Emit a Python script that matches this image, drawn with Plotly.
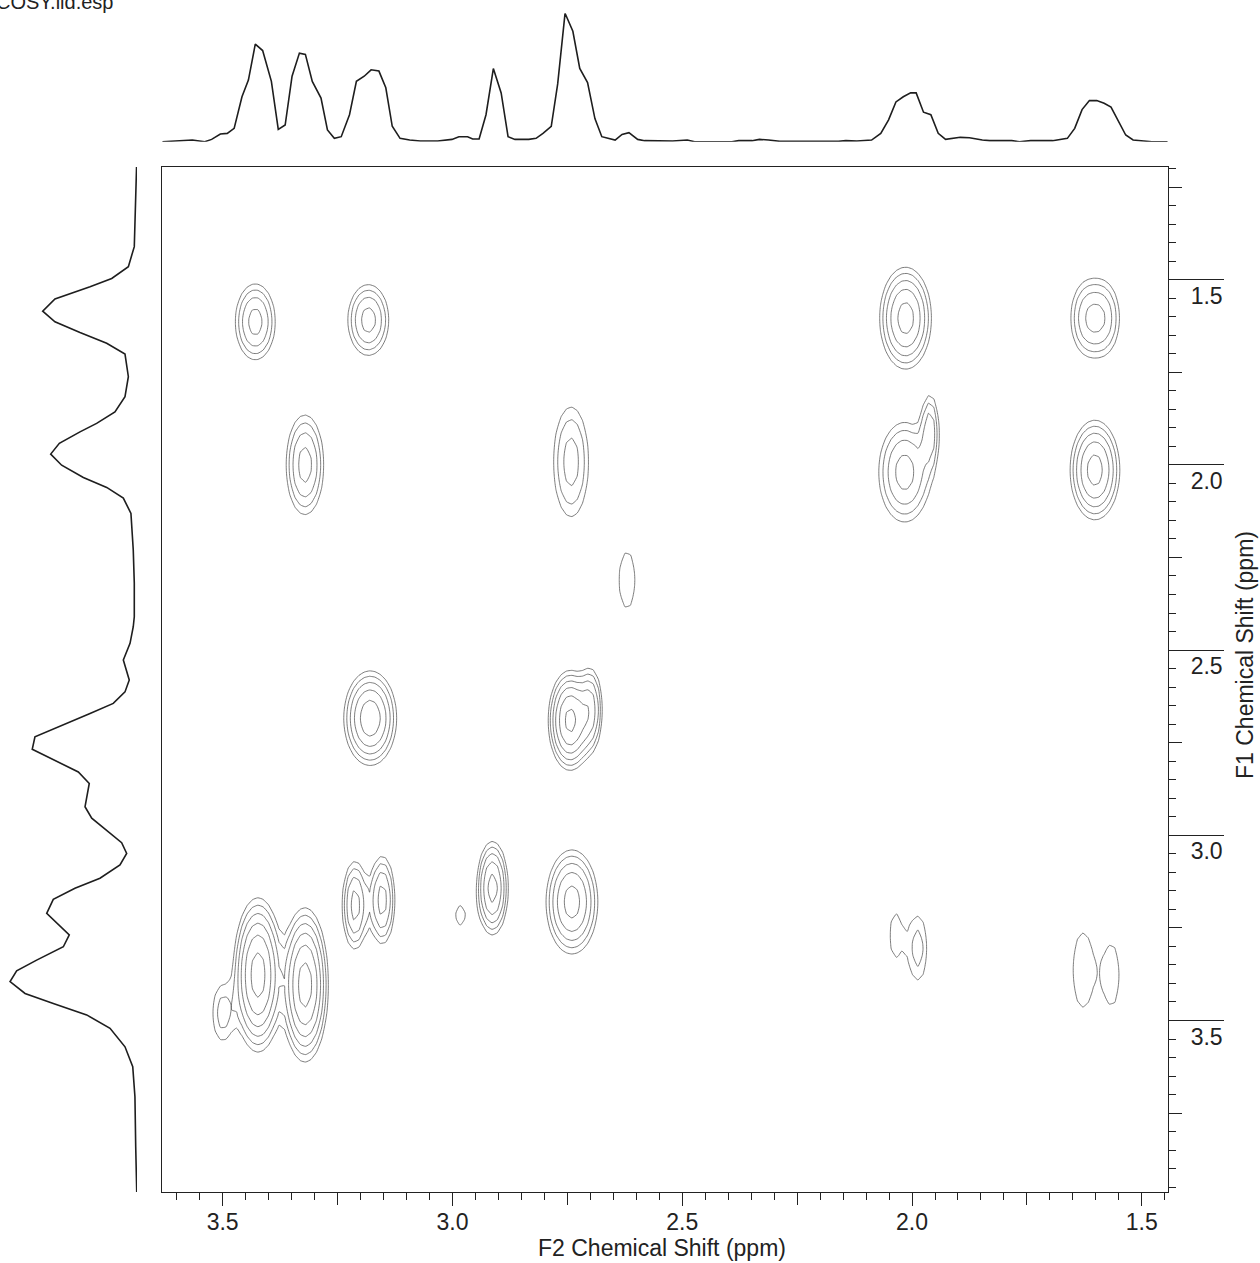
import numpy as np
import plotly.graph_objects as go

# ---------------- data ----------------
# F2 (horizontal) projection: chemical shift (ppm) and relative intensity
top_ppm = [3.631, 3.589, 3.566, 3.539, 3.524, 3.505, 3.490, 3.475, 3.458, 3.444,
           3.429, 3.413, 3.394, 3.379, 3.364, 3.349, 3.333, 3.320, 3.305, 3.286,
           3.272, 3.257, 3.242, 3.224, 3.209, 3.192, 3.177, 3.160, 3.145, 3.131,
           3.114, 3.093, 3.070, 3.032, 3.001, 2.986, 2.967, 2.956, 2.942, 2.927,
           2.911, 2.894, 2.879, 2.864, 2.834, 2.818, 2.803, 2.785, 2.771, 2.755,
           2.738, 2.723, 2.706, 2.690, 2.675, 2.646, 2.631, 2.616, 2.597, 2.582,
           2.551, 2.521, 2.489, 2.473, 2.392, 2.377, 2.348, 2.332, 2.312, 2.288,
           2.160, 2.144, 2.120, 2.088, 2.068, 2.051, 2.035, 2.019, 2.003, 1.991,
           1.975, 1.959, 1.943, 1.927, 1.895, 1.875, 1.847, 1.831, 1.783, 1.766,
           1.742, 1.694, 1.662, 1.646, 1.630, 1.614, 1.598, 1.582, 1.567, 1.551,
           1.535, 1.519, 1.502, 1.478, 1.444]
top_int = [0.0, 1.0, 1.3, 0.0, 1.8, 6.0, 6.5, 10.4, 35.0, 48.0,
           76.0, 71.0, 47.0, 9.6, 13.0, 51.0, 69.0, 68.0, 47.0, 34.0,
           9.1, 2.6, 3.9, 21.0, 47.0, 51.0, 56.0, 55.0, 42.0, 12.0,
           2.6, 1.3, 0.5, 0.5, 1.8, 3.9, 3.9, 2.1, 2.1, 21.0,
           57.0, 38.0, 3.9, 1.8, 1.8, 2.6, 6.5, 12.0, 45.0, 100.0,
           86.0, 57.0, 46.0, 18.0, 3.9, 1.3, 5.7, 7.0, 1.8, 0.8,
           0.5, 0.5, 1.3, 0.0, 0.0, 0.8, 0.8, 1.8, 1.3, 0.3,
           0.3, 0.8, 0.5, 1.3, 6.5, 17.0, 31.0, 35.0, 38.0, 38.0,
           23.0, 21.0, 6.5, 1.8, 3.4, 3.1, 1.3, 0.8, 0.8, 0.0,
           0.8, 0.8, 2.6, 10.4, 25.0, 32.0, 32.0, 30.0, 27.0, 16.0,
           5.2, 1.3, 0.8, 0.0, 0.0]

# F1 (vertical) projection
left_ppm = [1.191, 1.285, 1.339, 1.411, 1.465, 1.497, 1.519, 1.552, 1.585, 1.614,
            1.643, 1.672, 1.701, 1.762, 1.816, 1.857, 1.888, 1.911, 1.942, 1.971,
            2.001, 2.034, 2.061, 2.090, 2.131, 2.230, 2.320, 2.410, 2.437, 2.482,
            2.527, 2.581, 2.613, 2.644, 2.671, 2.707, 2.734, 2.768, 2.829, 2.860,
            2.923, 2.954, 2.986, 3.020, 3.049, 3.080, 3.116, 3.143, 3.173, 3.211,
            3.269, 3.301, 3.337, 3.366, 3.395, 3.427, 3.454, 3.485, 3.521, 3.571,
            3.625, 3.706, 3.841, 3.963]
left_int = [0.3, 1.0, 1.0, 2.1, 6.7, 19.6, 36.4, 63.6, 73.1, 63.6,
            44.2, 23.5, 9.3, 6.7, 9.3, 17.1, 31.3, 44.2, 60.2, 66.9,
            58.4, 41.6, 23.5, 10.6, 4.7, 2.9, 2.1, 2.1, 2.9, 5.4,
            10.6, 6.0, 9.3, 18.4, 36.4, 61.0, 79.1, 81.2, 45.5, 37.0,
            40.3, 35.1, 23.5, 11.9, 8.0, 13.2, 28.7, 48.1, 64.9, 70.0,
            52.5, 57.1, 77.8, 93.3, 98.4, 86.8, 64.9, 39.0, 20.9, 9.3,
            3.3, 1.6, 1.0, 0.2]

# 2D cross peaks: F2 shift, F1 shift, height, F2 width, F1 width (ppm)
peak_f2 = [3.429, 3.183, 2.014, 1.619, 1.584, 3.321, 2.742, 2.016, 1.961, 1.602,
           2.620, 3.179, 2.744, 2.700, 2.913, 2.983, 3.212, 3.153, 2.740, 3.423,
           3.321, 3.500, 2.036, 1.987, 1.628, 1.563]
peak_f1 = [1.614, 1.609, 1.604, 1.604, 1.604, 2.000, 1.992, 2.020, 1.910, 2.014,
           2.311, 2.684, 2.690, 2.660, 3.143, 3.216, 3.189, 3.175, 3.180, 3.377,
           3.404, 3.480, 3.270, 3.305, 3.364, 3.378]
peak_amp = [5, 5, 8, 3.4, 3.4, 5, 3.2, 5, 3.5, 8,
            1.3, 9, 12, 5, 8, 1.2, 5, 5, 8, 13,
            13, 2, 1.3, 2, 1.3, 1.3]
peak_w2 = [0.0243, 0.0249, 0.0277, 0.0225, 0.0225, 0.0229, 0.025, 0.0315, 0.0124, 0.0266,
           0.024, 0.0275, 0.0215, 0.0145, 0.017, 0.018, 0.0157, 0.0157, 0.0277, 0.024,
           0.0226, 0.0185, 0.0166, 0.0166, 0.030, 0.018]
peak_w1 = [0.0572, 0.0534, 0.0675, 0.0602, 0.0602, 0.075, 0.097, 0.075, 0.061, 0.066,
           0.104, 0.061, 0.0606, 0.06, 0.062, 0.045, 0.066, 0.066, 0.069, 0.092,
           0.092, 0.062, 0.079, 0.073, 0.138, 0.093]

x_tick_vals = [3.5, 3.0, 2.5, 2.0, 1.5]
x_tick_text = ["3.5", "3.0", "2.5", "2.0", "1.5"]
y_tick_vals = [1.5, 2.0, 2.5, 3.0, 3.5]
y_tick_text = ["1.5", "2.0", "2.5", "3.0", "3.5"]

F2_RANGE = [3.632, 1.443]
F1_RANGE = [3.963, 1.196]

# ---------------- 2D surface from the peak table ----------------
gx = np.linspace(F2_RANGE[1], F2_RANGE[0], 190)
gy = np.linspace(F1_RANGE[1], F1_RANGE[0], 170)
X, Y = np.meshgrid(gx, gy)
Z = np.zeros_like(X)
for f2, f1, a, w2, w1 in zip(peak_f2, peak_f1, peak_amp, peak_w2, peak_w1):
    Z += a * np.exp(-0.5 * ((X - f2) / w2) ** 2 - 0.5 * ((Y - f1) / w1) ** 2)
ZL = np.log(np.maximum(Z, 1e-6))

W, H = 1260, 1263
def px(x):
    return x / W
def py(y):
    return 1 - y / H

FONT = "Arial, Liberation Sans, sans-serif"
FS = 23
dom_x = [px(162), px(1168)]
dom_y = [py(1192), py(167)]

fig = go.Figure()
fig.add_trace(go.Contour(
    x=gx, y=gy, z=ZL, xaxis="x", yaxis="y",
    contours=dict(coloring="lines", start=0.0, end=np.log(30), size=np.log(1.6)),
    colorscale=[[0, "#5a5a5a"], [1, "#5a5a5a"]],
    line=dict(width=0.8, smoothing=0.6), showscale=False, hoverinfo="skip"))
fig.add_trace(go.Scatter(x=top_ppm, y=top_int, mode="lines", xaxis="x2", yaxis="y2",
                         line=dict(color="#1e1e1e", width=1.6), hoverinfo="skip"))
fig.add_trace(go.Scatter(x=left_int, y=left_ppm, mode="lines", xaxis="x3", yaxis="y3",
                         line=dict(color="#1e1e1e", width=1.6), hoverinfo="skip"))
# empty traces so the medium-tick overlay axes get drawn
fig.add_trace(go.Scatter(x=[], y=[], xaxis="x4", yaxis="y", hoverinfo="skip"))
fig.add_trace(go.Scatter(x=[], y=[], xaxis="x", yaxis="y4", hoverinfo="skip"))

hidden = dict(visible=False, showgrid=False, zeroline=False, fixedrange=True)

fig.update_layout(
    width=W, height=H, autosize=False,
    margin=dict(l=0, r=0, t=0, b=0),
    paper_bgcolor="white", plot_bgcolor="rgba(0,0,0,0)",
    showlegend=False,
    font=dict(family=FONT, size=FS, color="#222"),
    xaxis=dict(domain=dom_x, range=F2_RANGE, anchor="y", side="bottom",
               showgrid=False, zeroline=False, showline=True, mirror=True,
               linecolor="#222", linewidth=1.2,
               tickmode="array", tickvals=x_tick_vals, ticktext=x_tick_text,
               ticks="outside", ticklen=13, tickwidth=1.2, tickcolor="#222",
               ticklabelstandoff=-4,
               tickfont=dict(size=FS, family=FONT, color="#222"),
               minor=dict(dtick=0.05, tick0=1.5, ticks="outside", ticklen=7,
                          tickwidth=1.2, tickcolor="#222", showgrid=False)),
    xaxis4=dict(overlaying="x", anchor="y", side="bottom", range=F2_RANGE,
                domain=dom_x, tickmode="linear", tick0=1.5, dtick=0.25,
                ticks="outside", ticklen=12, tickwidth=1.2, tickcolor="#222",
                showticklabels=False, showgrid=False, zeroline=False, showline=False),
    yaxis=dict(domain=dom_y, range=F1_RANGE, anchor="x", side="right",
               showgrid=False, zeroline=False, showline=True, mirror=True,
               linecolor="#222", linewidth=1.2,
               tickmode="array", tickvals=y_tick_vals, ticktext=y_tick_text,
               ticks="outside", ticklen=55, tickwidth=1.2, tickcolor="#222",
               ticklabelstandoff=-38, ticklabelshift=-16,
               tickfont=dict(size=FS, family=FONT, color="#222"),
               minor=dict(dtick=0.05, tick0=1.5, ticks="outside", ticklen=7,
                          tickwidth=1.2, tickcolor="#222", showgrid=False)),
    yaxis4=dict(overlaying="y", anchor="x", side="right", range=F1_RANGE,
                domain=dom_y, tickmode="linear", tick0=1.5, dtick=0.25,
                ticks="outside", ticklen=13, tickwidth=1.2, tickcolor="#222",
                showticklabels=False, showgrid=False, zeroline=False, showline=False),
    xaxis2=dict(domain=dom_x, range=F2_RANGE, anchor="y2", **hidden),
    yaxis2=dict(domain=[py(141.7), py(13.3)], range=[0, 100], anchor="x2", **hidden),
    xaxis3=dict(domain=[px(8), px(137)], range=[100, 0], anchor="y3", **hidden),
    yaxis3=dict(domain=dom_y, range=F1_RANGE, anchor="x3", **hidden),
    annotations=[
        dict(text="F2 Chemical Shift (ppm)", xref="paper", yref="paper",
             x=px(662), y=py(1248), xanchor="center", yanchor="middle",
             showarrow=False, font=dict(size=FS, family=FONT, color="#222")),
        dict(text="F1 Chemical Shift (ppm)", xref="paper", yref="paper",
             x=px(1245), y=py(655), xanchor="center", yanchor="middle",
             textangle=-90, showarrow=False, font=dict(size=FS, family=FONT, color="#222")),
        dict(text="COSY.lid.esp", xref="paper", yref="paper",
             x=px(-6), y=1, xanchor="left", yanchor="top", yshift=11,
             showarrow=False, font=dict(size=20, family=FONT, color="#222")),
    ],
)

fig.write_html("out.html")
